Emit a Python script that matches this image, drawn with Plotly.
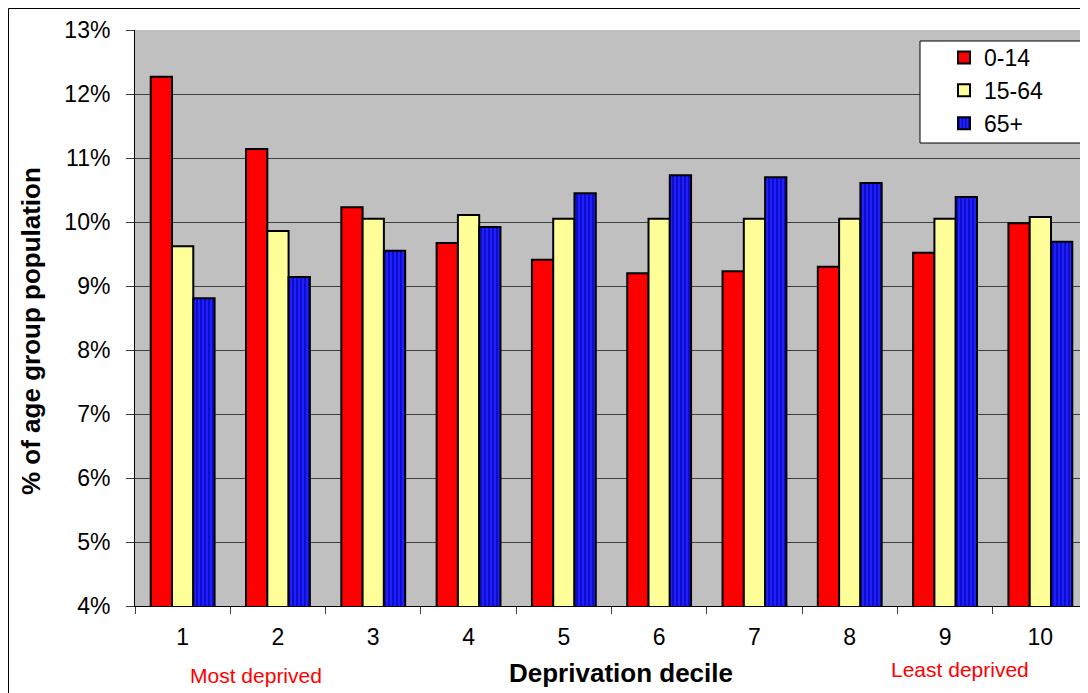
import plotly.graph_objects as go

deciles = ["1", "2", "3", "4", "5", "6", "7", "8", "9", "10"]
age_0_14 = [12.27, 11.14, 10.23, 9.67, 9.41, 9.20, 9.23, 9.30, 9.52, 9.98]
age_15_64 = [9.62, 9.86, 10.05, 10.11, 10.05, 10.05, 10.05, 10.05, 10.05, 10.08]
age_65p = [8.81, 9.14, 9.55, 9.92, 10.45, 10.73, 10.70, 10.61, 10.39, 9.69]
y_ticks = [4, 5, 6, 7, 8, 9, 10, 11, 12, 13]
y_tick_labels = ["4%", "5%", "6%", "7%", "8%", "9%", "10%", "11%", "12%", "13%"]

# page offset of the figure (body margin) is 8px; plot area in page px: x 135..1088, y 30..606
PW, PH = 953.0, 576.0
def px(x):
    return (x - 135) / PW
def py(y):
    return (606 - y) / PH

FONT = "Liberation Sans, Arial, sans-serif"

fig = go.Figure()
fig.add_bar(x=deciles, y=age_0_14, name="0-14",
            marker=dict(color="#FF0000", line=dict(color="black", width=2)))
fig.add_bar(x=deciles, y=age_15_64, name="15-64",
            marker=dict(color="#FFFF99", line=dict(color="black", width=2)))
fig.add_bar(x=deciles, y=age_65p, name="65+",
            marker=dict(color="#1414F0", line=dict(color="black", width=2),
                        pattern=dict(shape="|", fgcolor="#0000A8", bgcolor="#2020FF",
                                     size=4, solidity=0.3, fillmode="replace")))

fig.update_layout(
    width=1080, height=685,
    margin=dict(l=127, r=0, t=22, b=87),
    paper_bgcolor="white", plot_bgcolor="#C0C0C0",
    barmode="group", bargap=0.33, bargroupgap=0,
    font=dict(family=FONT, color="black", size=23),
    showlegend=True,
    legend=dict(x=px(944), y=py(36), xanchor="left", yanchor="top",
                bgcolor="rgba(0,0,0,0)", borderwidth=0,
                font=dict(size=23), tracegroupgap=0, itemwidth=30),
    xaxis=dict(type="category", tickson="boundaries", ticks="outside", ticklen=7,
               tickcolor="#404040", showline=True, linecolor="black", linewidth=1,
               showgrid=False, tickfont=dict(size=23), ticklabelstandoff=10),
    yaxis=dict(range=[4, 13], tickmode="array", tickvals=y_ticks, ticktext=y_tick_labels,
               ticks="outside", ticklen=8,
               tickcolor="#404040", showline=True, linecolor="black", linewidth=1,
               showgrid=True, gridcolor="#404040", gridwidth=1, zeroline=False,
               tickfont=dict(size=23), ticklabelstandoff=11),
)

fig.add_annotation(text="<b>Deprivation decile</b>", xref="paper", yref="paper",
                   x=px(621), y=py(673), showarrow=False,
                   font=dict(size=26, color="black"), xanchor="center", yanchor="middle")
fig.add_annotation(text="<b>% of age group population</b>", xref="paper", yref="paper",
                   x=px(31), y=py(331), showarrow=False, textangle=-90,
                   font=dict(size=26, color="black"), xanchor="center", yanchor="middle")
fig.add_annotation(text="Most deprived", xref="paper", yref="paper",
                   x=px(256), y=py(675), showarrow=False,
                   font=dict(color="#FF0000", size=21), xanchor="center", yanchor="middle")
fig.add_annotation(text="Least deprived", xref="paper", yref="paper",
                   x=px(960), y=py(669), showarrow=False,
                   font=dict(color="#FF0000", size=21), xanchor="center", yanchor="middle")

# legend box
fig.add_shape(type="rect", xref="paper", yref="paper",
              x0=px(920), x1=px(1081), y0=py(143), y1=py(41),
              line=dict(color="black", width=1), fillcolor="white", layer="above")
# outer chart border
fig.add_shape(type="rect", xref="paper", yref="paper",
              x0=px(8.5), x1=px(1100), y0=py(700), y1=py(8.5),
              line=dict(color="black", width=1), fillcolor="rgba(0,0,0,0)", layer="below")

fig.write_html("out.html")
